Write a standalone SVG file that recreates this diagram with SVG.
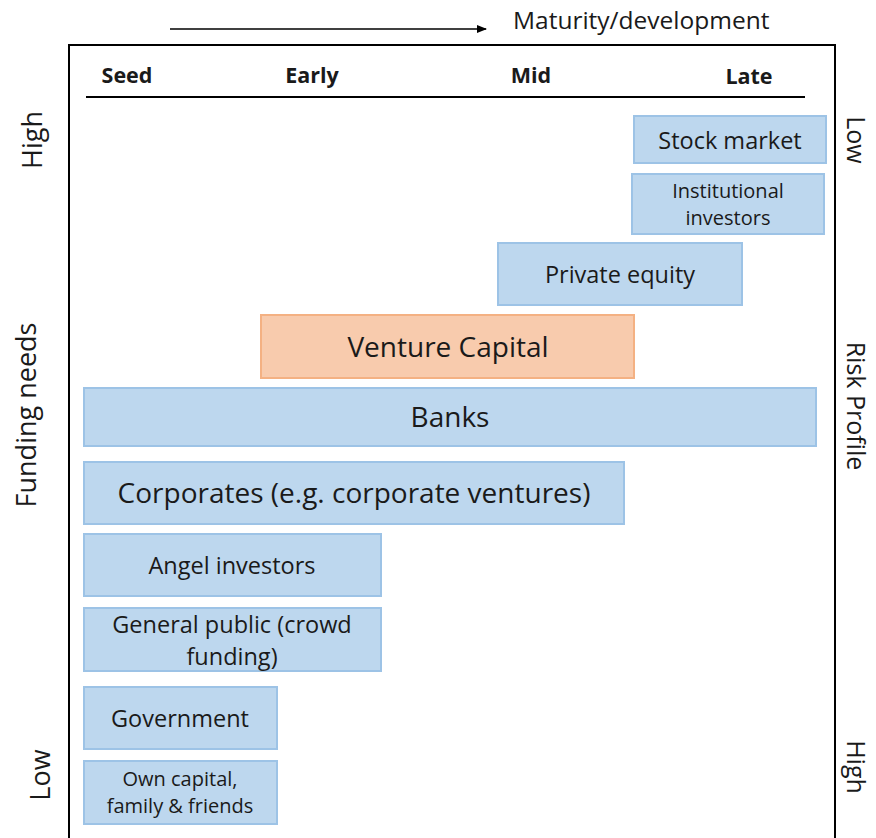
<svg xmlns="http://www.w3.org/2000/svg" width="876" height="838" viewBox="0 0 876 838">
  <defs>
    <marker id="arrowhead" markerWidth="10" markerHeight="8" refX="9" refY="4" orient="auto" markerUnits="userSpaceOnUse">
      <path d="M0,0 L10,4 L0,8 z" fill="#000"/>
    </marker>
  </defs>
  <style>
    text { font-family: "Open Sans", "Noto Sans", "Liberation Sans", sans-serif; fill: #1a1a1a; }
    .box { fill: #BDD7EE; stroke: #9DC3E6; stroke-width: 2; }
    .vc { fill: #F8CBAD; stroke: #F4B183; stroke-width: 2; }
    .lbl { text-anchor: middle; }
    .s26 { font-size: 28px; }
    .s22 { font-size: 23.5px; }
    .s19 { font-size: 20px; }
    .stage { font-size: 21.5px; font-weight: bold; text-anchor: middle; }
    .axis { font-size: 27px; text-anchor: middle; }
    .axis-r { font-size: 25px; text-anchor: middle; }
    .frame { stroke: #000; stroke-width: 2; fill: none; }
  </style>

  <rect width="876" height="838" fill="#fff"/>

  <!-- frame and header -->
  <g id="frame">
    <path class="frame" d="M69,838 V45 H835 V838"/>
    <line x1="86" y1="97" x2="805" y2="97" stroke="#000" stroke-width="2"/>
  </g>

  <g id="connectors">
    <line x1="170" y1="29" x2="486" y2="29" stroke="#000" stroke-width="1.5" marker-end="url(#arrowhead)"/>
  </g>

  <text x="513" y="29" font-size="24.5px">Maturity/development</text>

  <g id="stages">
    <text class="stage" x="127" y="83">Seed</text>
    <text class="stage" x="312" y="83">Early</text>
    <text class="stage" x="531" y="83">Mid</text>
    <text class="stage" x="749" y="84">Late</text>
  </g>

  <!-- vertical axis labels -->
  <g id="funding-axis">
    <text class="axis" transform="translate(42,140) rotate(-90)">High</text>
    <text class="axis" transform="translate(36,415) rotate(-90)">Funding needs</text>
    <text class="axis" transform="translate(50,775) rotate(-90)">Low</text>
  </g>
  <g id="risk-axis">
    <text class="axis-r" transform="translate(847,140) rotate(90)">Low</text>
    <text class="axis-r" transform="translate(847,406) rotate(90)">Risk Profile</text>
    <text class="axis-r" transform="translate(847,767) rotate(90)">High</text>
  </g>

  <!-- funding sources -->
  <g id="stock-market">
    <rect class="box" x="634" y="116" width="192" height="47"/>
    <text class="lbl s22" x="730" y="149">Stock market</text>
  </g>
  <g id="institutional-investors">
    <rect class="box" x="632" y="174" width="192" height="60"/>
    <text class="lbl s19" x="728" y="198">Institutional</text>
    <text class="lbl s19" x="728" y="225">investors</text>
  </g>
  <g id="private-equity">
    <rect class="box" x="498" y="243" width="244" height="62"/>
    <text class="lbl s22" x="620" y="283">Private equity</text>
  </g>
  <g id="venture-capital">
    <rect class="vc" x="261" y="315" width="373" height="63"/>
    <text class="lbl s26" x="448" y="357">Venture Capital</text>
  </g>
  <g id="banks">
    <rect class="box" x="84" y="388" width="732" height="58"/>
    <text class="lbl s26" x="450" y="427">Banks</text>
  </g>
  <g id="corporates">
    <rect class="box" x="84" y="462" width="540" height="62"/>
    <text class="lbl s26" x="354" y="503">Corporates (e.g. corporate ventures)</text>
  </g>
  <g id="angel-investors">
    <rect class="box" x="84" y="534" width="297" height="62"/>
    <text class="lbl s22" x="232" y="574">Angel investors</text>
  </g>
  <g id="general-public">
    <rect class="box" x="84" y="608" width="297" height="63"/>
    <text class="lbl s22" x="232" y="633">General public (crowd</text>
    <text class="lbl s22" x="232" y="665">funding)</text>
  </g>
  <g id="government">
    <rect class="box" x="84" y="687" width="193" height="62"/>
    <text class="lbl s22" x="180" y="727">Government</text>
  </g>
  <g id="own-capital">
    <rect class="box" x="84" y="761" width="193" height="63"/>
    <text class="lbl s19" x="180" y="786">Own capital,</text>
    <text class="lbl s19" x="180" y="813">family &amp; friends</text>
  </g>
</svg>
